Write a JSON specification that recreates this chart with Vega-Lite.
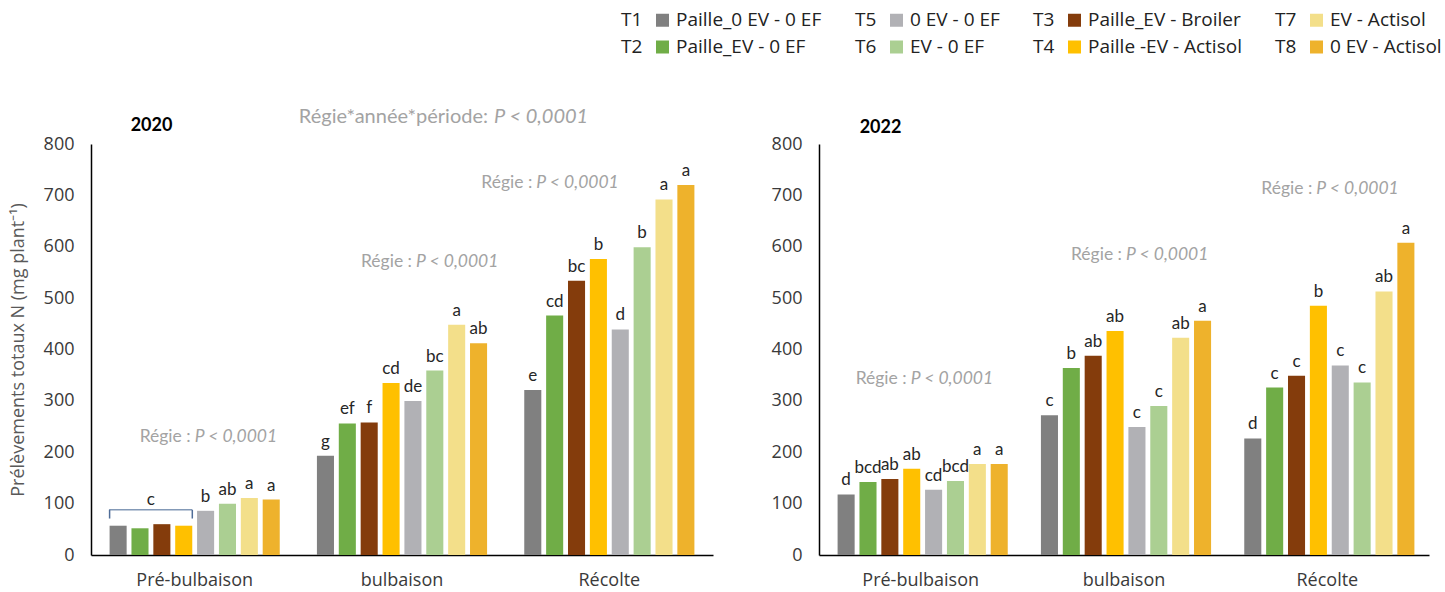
{
  "$schema": "https://vega.github.io/schema/vega-lite/v6.json",
  "background": "white",
  "padding": {"left": 9, "top": 10, "right": 10, "bottom": 5},
  "bounds": "flush",
  "spacing": 106,
  "config": {
    "view": {"stroke": null},
    "font": "Open Sans",
    "axisX": {"domainColor": "#000000", "domainWidth": 1.5, "ticks": false, "labelFont": "Open Sans", "labelFontSize": 18, "labelColor": "#3a3a3a", "labelPadding": 16, "labelAngle": 0, "grid": false},
    "axisY": {"domainColor": "#000000", "domainWidth": 1.5, "ticks": false, "labelFont": "Open Sans", "labelFontSize": 18, "labelColor": "#3a3a3a", "labelPadding": 17, "grid": false, "titleFont": "Open Sans", "titleFontSize": 18, "titleFontWeight": "normal", "titleColor": "#595959", "titlePadding": 16}
  },
  "datasets": {
    "prelevements": [
      {"year": "2020", "period": "Pré-bulbaison", "code": "T1", "desc": "Paille_0 EV - 0 EF", "value": 57, "letter": ""},
      {"year": "2020", "period": "Pré-bulbaison", "code": "T2", "desc": "Paille_EV - 0 EF", "value": 52, "letter": ""},
      {"year": "2020", "period": "Pré-bulbaison", "code": "T3", "desc": "Paille_EV - Broiler", "value": 60, "letter": ""},
      {"year": "2020", "period": "Pré-bulbaison", "code": "T4", "desc": "Paille -EV - Actisol", "value": 57, "letter": ""},
      {"year": "2020", "period": "Pré-bulbaison", "code": "T5", "desc": "0 EV - 0 EF", "value": 86, "letter": "b"},
      {"year": "2020", "period": "Pré-bulbaison", "code": "T6", "desc": "EV - 0 EF", "value": 100, "letter": "ab"},
      {"year": "2020", "period": "Pré-bulbaison", "code": "T7", "desc": "EV - Actisol", "value": 111, "letter": "a"},
      {"year": "2020", "period": "Pré-bulbaison", "code": "T8", "desc": "0 EV - Actisol", "value": 108, "letter": "a"},
      {"year": "2020", "period": "bulbaison", "code": "T1", "desc": "Paille_0 EV - 0 EF", "value": 193, "letter": "g"},
      {"year": "2020", "period": "bulbaison", "code": "T2", "desc": "Paille_EV - 0 EF", "value": 256, "letter": "ef"},
      {"year": "2020", "period": "bulbaison", "code": "T3", "desc": "Paille_EV - Broiler", "value": 258, "letter": "f"},
      {"year": "2020", "period": "bulbaison", "code": "T4", "desc": "Paille -EV - Actisol", "value": 335, "letter": "cd"},
      {"year": "2020", "period": "bulbaison", "code": "T5", "desc": "0 EV - 0 EF", "value": 300, "letter": "de"},
      {"year": "2020", "period": "bulbaison", "code": "T6", "desc": "EV - 0 EF", "value": 359, "letter": "bc"},
      {"year": "2020", "period": "bulbaison", "code": "T7", "desc": "EV - Actisol", "value": 448, "letter": "a"},
      {"year": "2020", "period": "bulbaison", "code": "T8", "desc": "0 EV - Actisol", "value": 412, "letter": "ab"},
      {"year": "2020", "period": "Récolte", "code": "T1", "desc": "Paille_0 EV - 0 EF", "value": 321, "letter": "e"},
      {"year": "2020", "period": "Récolte", "code": "T2", "desc": "Paille_EV - 0 EF", "value": 466, "letter": "cd"},
      {"year": "2020", "period": "Récolte", "code": "T3", "desc": "Paille_EV - Broiler", "value": 534, "letter": "bc"},
      {"year": "2020", "period": "Récolte", "code": "T4", "desc": "Paille -EV - Actisol", "value": 576, "letter": "b"},
      {"year": "2020", "period": "Récolte", "code": "T5", "desc": "0 EV - 0 EF", "value": 439, "letter": "d"},
      {"year": "2020", "period": "Récolte", "code": "T6", "desc": "EV - 0 EF", "value": 599, "letter": "b"},
      {"year": "2020", "period": "Récolte", "code": "T7", "desc": "EV - Actisol", "value": 692, "letter": "a"},
      {"year": "2020", "period": "Récolte", "code": "T8", "desc": "0 EV - Actisol", "value": 720, "letter": "a"},
      {"year": "2022", "period": "Pré-bulbaison", "code": "T1", "desc": "Paille_0 EV - 0 EF", "value": 118, "letter": "d"},
      {"year": "2022", "period": "Pré-bulbaison", "code": "T2", "desc": "Paille_EV - 0 EF", "value": 142, "letter": "bcd"},
      {"year": "2022", "period": "Pré-bulbaison", "code": "T3", "desc": "Paille_EV - Broiler", "value": 148, "letter": "ab"},
      {"year": "2022", "period": "Pré-bulbaison", "code": "T4", "desc": "Paille -EV - Actisol", "value": 168, "letter": "ab"},
      {"year": "2022", "period": "Pré-bulbaison", "code": "T5", "desc": "0 EV - 0 EF", "value": 127, "letter": "cd"},
      {"year": "2022", "period": "Pré-bulbaison", "code": "T6", "desc": "EV - 0 EF", "value": 144, "letter": "bcd"},
      {"year": "2022", "period": "Pré-bulbaison", "code": "T7", "desc": "EV - Actisol", "value": 177, "letter": "a"},
      {"year": "2022", "period": "Pré-bulbaison", "code": "T8", "desc": "0 EV - Actisol", "value": 177, "letter": "a"},
      {"year": "2022", "period": "bulbaison", "code": "T1", "desc": "Paille_0 EV - 0 EF", "value": 272, "letter": "c"},
      {"year": "2022", "period": "bulbaison", "code": "T2", "desc": "Paille_EV - 0 EF", "value": 364, "letter": "b"},
      {"year": "2022", "period": "bulbaison", "code": "T3", "desc": "Paille_EV - Broiler", "value": 388, "letter": "ab"},
      {"year": "2022", "period": "bulbaison", "code": "T4", "desc": "Paille -EV - Actisol", "value": 436, "letter": "ab"},
      {"year": "2022", "period": "bulbaison", "code": "T5", "desc": "0 EV - 0 EF", "value": 249, "letter": "c"},
      {"year": "2022", "period": "bulbaison", "code": "T6", "desc": "EV - 0 EF", "value": 290, "letter": "c"},
      {"year": "2022", "period": "bulbaison", "code": "T7", "desc": "EV - Actisol", "value": 423, "letter": "ab"},
      {"year": "2022", "period": "bulbaison", "code": "T8", "desc": "0 EV - Actisol", "value": 456, "letter": "a"},
      {"year": "2022", "period": "Récolte", "code": "T1", "desc": "Paille_0 EV - 0 EF", "value": 227, "letter": "d"},
      {"year": "2022", "period": "Récolte", "code": "T2", "desc": "Paille_EV - 0 EF", "value": 326, "letter": "c"},
      {"year": "2022", "period": "Récolte", "code": "T3", "desc": "Paille_EV - Broiler", "value": 349, "letter": "c"},
      {"year": "2022", "period": "Récolte", "code": "T4", "desc": "Paille -EV - Actisol", "value": 485, "letter": "b"},
      {"year": "2022", "period": "Récolte", "code": "T5", "desc": "0 EV - 0 EF", "value": 369, "letter": "c"},
      {"year": "2022", "period": "Récolte", "code": "T6", "desc": "EV - 0 EF", "value": 336, "letter": "c"},
      {"year": "2022", "period": "Récolte", "code": "T7", "desc": "EV - Actisol", "value": 513, "letter": "ab"},
      {"year": "2022", "period": "Récolte", "code": "T8", "desc": "0 EV - Actisol", "value": 608, "letter": "a"}
    ]
  },
  "hconcat": [
    {
      "width": 622,
      "height": 411,
      "data": {"name": "prelevements"},
      "transform": [{"filter": "datum.year == '2020'"}],
      "layer": [
        {
          "mark": {"type": "bar"},
          "encoding": {
            "x": {"field": "period", "type": "nominal", "scale": {"domain": ["Pré-bulbaison", "bulbaison", "Récolte"], "paddingInner": 0, "paddingOuter": 0}, "axis": {"title": null}},
            "xOffset": {"field": "code", "type": "nominal", "scale": {"domain": ["T1", "T2", "T3", "T4", "T5", "T6", "T7", "T8"], "paddingInner": 0.22, "paddingOuter": 0.85}},
            "y": {"field": "value", "type": "quantitative", "scale": {"domain": [0, 800]}, "axis": {"title": "Prélèvements totaux N (mg plant⁻¹)", "values": [0, 100, 200, 300, 400, 500, 600, 700, 800]}},
            "color": {
              "field": "desc", "type": "nominal",
              "scale": {
                "domain": ["T1", "Paille_0 EV - 0 EF", "T5", "0 EV - 0 EF", "T3", "Paille_EV - Broiler", "T7", "EV - Actisol", "T2", "Paille_EV - 0 EF", "T6", "EV - 0 EF", "T4", "Paille -EV - Actisol", "T8", "0 EV - Actisol"],
                "range": ["transparent", "#808080", "transparent", "#b1b1b5", "transparent", "#843c0c", "transparent", "#f3df8a", "transparent", "#70ad47", "transparent", "#abcf92", "transparent", "#ffc000", "transparent", "#eeb22c"]
              },
              "legend": {
                "orient": "none", "legendX": 507, "legendY": -133.5, "columns": 8, "direction": "horizontal", "title": null,
                "symbolType": "square", "symbolSize": 169, "symbolStrokeWidth": 0,
                "labelFont": "Open Sans", "labelFontSize": 19, "labelColor": "#222222", "labelOffset": 4, "labelLimit": 300,
                "columnPadding": 10, "rowPadding": 7
              }
            }
          }
        },
        {
          "mark": {"type": "text", "font": "Lato", "fontSize": 17, "color": "#262626", "baseline": "alphabetic", "dy": -9},
          "encoding": {
            "x": {"field": "period", "type": "nominal"},
            "xOffset": {"field": "code", "type": "nominal"},
            "y": {"field": "value", "type": "quantitative"},
            "text": {"field": "letter"}
          }
        },
        {
          "data": {"values": [{}]},
          "mark": {"type": "tick", "orient": "horizontal", "size": 83, "thickness": 1.5, "color": "#4f6d98", "xOffset": -44},
          "encoding": {
            "x": {"datum": "Pré-bulbaison"},
            "y": {"datum": 88}
          }
        },
        {
          "data": {"values": [{}]},
          "mark": {"type": "rule", "strokeWidth": 1.5, "color": "#4f6d98"},
          "encoding": {
            "x": {"datum": "Pré-bulbaison", "bandPosition": 0.0897},
            "y": {"datum": 71},
            "y2": {"datum": 88}
          }
        },
        {
          "data": {"values": [{}]},
          "mark": {"type": "rule", "strokeWidth": 1.5, "color": "#4f6d98"},
          "encoding": {
            "x": {"datum": "Pré-bulbaison", "bandPosition": 0.4886},
            "y": {"datum": 71},
            "y2": {"datum": 88}
          }
        },
        {
          "data": {"values": [{}]},
          "mark": {"type": "text", "text": "c", "font": "Lato", "fontSize": 17, "color": "#262626", "baseline": "alphabetic"},
          "encoding": {
            "x": {"datum": "Pré-bulbaison", "bandPosition": 0.2889},
            "y": {"datum": 98}
          }
        },
        {
          "data": {"values": [{}]},
          "mark": {"type": "text", "text": "2020", "font": "Lato", "fontSize": 18, "fontWeight": "bold", "color": "#000000", "align": "left", "baseline": "middle", "dx": -64},
          "encoding": {"x": {"datum": "Pré-bulbaison"}, "y": {"datum": 836}}
        },
        {
          "data": {"values": [{}]},
          "mark": {"type": "text", "text": "Régie*année*période:", "font": "Lato", "fontSize": 20, "color": "#a3a3a3", "align": "right", "baseline": "middle", "dx": 86},
          "encoding": {"x": {"datum": "bulbaison"}, "y": {"datum": 853}}
        },
        {
          "data": {"values": [{}]},
          "mark": {"type": "text", "text": "P < 0,0001", "font": "Lato", "fontSize": 20, "fontStyle": "italic", "color": "#a3a3a3", "align": "left", "baseline": "middle", "dx": 92},
          "encoding": {"x": {"datum": "bulbaison"}, "y": {"datum": 853}}
        },
        {
          "data": {"values": [{}]},
          "mark": {"type": "text", "text": "Régie :", "font": "Lato", "fontSize": 17.5, "color": "#a3a3a3", "align": "right", "baseline": "middle", "dx": -4},
          "encoding": {"x": {"datum": "Pré-bulbaison"}, "y": {"datum": 229}}
        },
        {
          "data": {"values": [{}]},
          "mark": {"type": "text", "text": "P < 0,0001", "font": "Lato", "fontSize": 17.5, "fontStyle": "italic", "color": "#a3a3a3", "align": "left", "baseline": "middle", "dx": 0},
          "encoding": {"x": {"datum": "Pré-bulbaison"}, "y": {"datum": 229}}
        },
        {
          "data": {"values": [{}]},
          "mark": {"type": "text", "text": "Régie :", "font": "Lato", "fontSize": 17.5, "color": "#a3a3a3", "align": "right", "baseline": "middle", "dx": 10},
          "encoding": {"x": {"datum": "bulbaison"}, "y": {"datum": 571}}
        },
        {
          "data": {"values": [{}]},
          "mark": {"type": "text", "text": "P < 0,0001", "font": "Lato", "fontSize": 17.5, "fontStyle": "italic", "color": "#a3a3a3", "align": "left", "baseline": "middle", "dx": 14},
          "encoding": {"x": {"datum": "bulbaison"}, "y": {"datum": 571}}
        },
        {
          "data": {"values": [{}]},
          "mark": {"type": "text", "text": "Régie :", "font": "Lato", "fontSize": 17.5, "color": "#a3a3a3", "align": "right", "baseline": "middle", "dx": -77},
          "encoding": {"x": {"datum": "Récolte"}, "y": {"datum": 725}}
        },
        {
          "data": {"values": [{}]},
          "mark": {"type": "text", "text": "P < 0,0001", "font": "Lato", "fontSize": 17.5, "fontStyle": "italic", "color": "#a3a3a3", "align": "left", "baseline": "middle", "dx": -73},
          "encoding": {"x": {"datum": "Récolte"}, "y": {"datum": 725}}
        }
      ]
    },
    {
      "width": 610,
      "height": 411,
      "data": {"name": "prelevements"},
      "transform": [{"filter": "datum.year == '2022'"}],
      "layer": [
        {
          "mark": {"type": "bar"},
          "encoding": {
            "x": {"field": "period", "type": "nominal", "scale": {"domain": ["Pré-bulbaison", "bulbaison", "Récolte"], "paddingInner": 0, "paddingOuter": 0}, "axis": {"title": null}},
            "xOffset": {"field": "code", "type": "nominal", "scale": {"domain": ["T1", "T2", "T3", "T4", "T5", "T6", "T7", "T8"], "paddingInner": 0.22, "paddingOuter": 0.85}},
            "y": {"field": "value", "type": "quantitative", "scale": {"domain": [0, 800]}, "axis": {"title": null, "values": [0, 100, 200, 300, 400, 500, 600, 700, 800]}},
            "color": {"field": "desc", "type": "nominal"}
          }
        },
        {
          "mark": {"type": "text", "font": "Lato", "fontSize": 17, "color": "#262626", "baseline": "alphabetic", "dy": -9},
          "encoding": {
            "x": {"field": "period", "type": "nominal"},
            "xOffset": {"field": "code", "type": "nominal"},
            "y": {"field": "value", "type": "quantitative"},
            "text": {"field": "letter"}
          }
        },
        {
          "data": {"values": [{}]},
          "mark": {"type": "text", "text": "2022", "font": "Lato", "fontSize": 18, "fontWeight": "bold", "color": "#000000", "align": "left", "baseline": "middle", "dx": -61},
          "encoding": {"x": {"datum": "Pré-bulbaison"}, "y": {"datum": 832}}
        },
        {
          "data": {"values": [{}]},
          "mark": {"type": "text", "text": "Régie :", "font": "Lato", "fontSize": 17.5, "color": "#a3a3a3", "align": "right", "baseline": "middle", "dx": -14},
          "encoding": {"x": {"datum": "Pré-bulbaison"}, "y": {"datum": 342}}
        },
        {
          "data": {"values": [{}]},
          "mark": {"type": "text", "text": "P < 0,0001", "font": "Lato", "fontSize": 17.5, "fontStyle": "italic", "color": "#a3a3a3", "align": "left", "baseline": "middle", "dx": -10},
          "encoding": {"x": {"datum": "Pré-bulbaison"}, "y": {"datum": 342}}
        },
        {
          "data": {"values": [{}]},
          "mark": {"type": "text", "text": "Régie :", "font": "Lato", "fontSize": 17.5, "color": "#a3a3a3", "align": "right", "baseline": "middle", "dx": -2},
          "encoding": {"x": {"datum": "bulbaison"}, "y": {"datum": 583}}
        },
        {
          "data": {"values": [{}]},
          "mark": {"type": "text", "text": "P < 0,0001", "font": "Lato", "fontSize": 17.5, "fontStyle": "italic", "color": "#a3a3a3", "align": "left", "baseline": "middle", "dx": 2},
          "encoding": {"x": {"datum": "bulbaison"}, "y": {"datum": 583}}
        },
        {
          "data": {"values": [{}]},
          "mark": {"type": "text", "text": "Régie :", "font": "Lato", "fontSize": 17.5, "color": "#a3a3a3", "align": "right", "baseline": "middle", "dx": -15},
          "encoding": {"x": {"datum": "Récolte"}, "y": {"datum": 713}}
        },
        {
          "data": {"values": [{}]},
          "mark": {"type": "text", "text": "P < 0,0001", "font": "Lato", "fontSize": 17.5, "fontStyle": "italic", "color": "#a3a3a3", "align": "left", "baseline": "middle", "dx": -11},
          "encoding": {"x": {"datum": "Récolte"}, "y": {"datum": 713}}
        }
      ]
    }
  ]
}
